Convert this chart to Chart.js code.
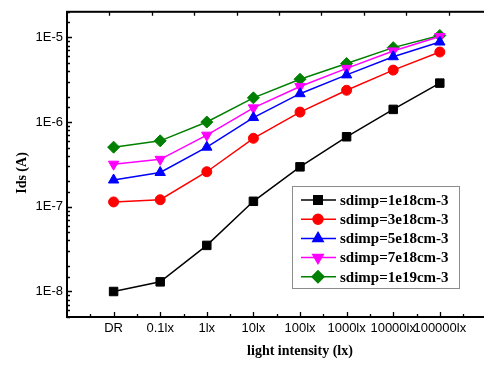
<!DOCTYPE html>
<html>
<head>
<meta charset="utf-8">
<script src="https://cdn.jsdelivr.net/npm/chart.js@4.4.1/dist/chart.umd.min.js"></script>
<style>
  html, body { margin: 0; padding: 0; background: #fff; overflow: hidden; }
  #ids { display: block; }
</style>
</head>
<body>
<canvas id="ids" width="545" height="365"></canvas>
<script>
// light intensity categories on the x axis
const intensities = ["DR", "0.1lx", "1lx", "10lx", "100lx", "1000lx", "10000lx", "100000lx"];
const seriesNames = ["sdimp=1e18cm-3", "sdimp=3e18cm-3", "sdimp=5e18cm-3", "sdimp=7e18cm-3", "sdimp=1e19cm-3"];

// Ids (A)
const ids1e18 = [1.0e-8, 1.3e-8, 3.5e-8, 1.16e-7, 2.96e-7, 6.7e-7, 1.41e-6, 2.88e-6];
const ids3e18 = [1.14e-7, 1.21e-7, 2.59e-7, 6.43e-7, 1.31e-6, 2.37e-6, 4.1e-6, 6.7e-6];
const ids5e18 = [2.07e-7, 2.54e-7, 5.05e-7, 1.13e-6, 2.16e-6, 3.6e-6, 5.9e-6, 8.8e-6];
const ids7e18 = [3.18e-7, 3.63e-7, 7.0e-7, 1.47e-6, 2.63e-6, 4.3e-6, 6.9e-6, 1.02e-5];
const ids1e19 = [5.05e-7, 6.0e-7, 1.0e-6, 1.93e-6, 3.2e-6, 4.9e-6, 7.55e-6, 1.05e-5];

// y axis limits and labelled decades
const yMin = 5e-9;
const yMax = 2e-5;
const yDecades = [1e-8, 1e-7, 1e-6, 1e-5];
const yDecadeLabels = ["1E-8", "1E-7", "1E-6", "1E-5"];

function toPoints(values) {
  return values.map((v, i) => ({ x: i, y: v }));
}

function makeSet(label, values, color, style, radius, rotation) {
  return {
    label,
    data: toPoints(values),
    borderColor: color,
    backgroundColor: color,
    borderWidth: 1.5,
    pointStyle: style,
    pointRadius: radius,
    pointRotation: rotation || 0,
    pointBackgroundColor: color,
    pointBorderColor: color,
    pointBorderWidth: 1,
    tension: 0,
    clip: false,
  };
}

const serif = "'Liberation Serif', 'Times New Roman', serif";
const sans = "'Liberation Sans', Arial, sans-serif";

// box, inward ticks, y title and the legend
const frame = {
  id: "frame",
  afterDraw(chart) {
    const { ctx, chartArea: a } = chart;
    const xs = chart.scales.x;
    const ys = chart.scales.y;
    ctx.save();
    ctx.strokeStyle = "#000";
    ctx.lineWidth = 2;
    ctx.strokeRect(a.left, a.top, a.right - a.left, a.bottom - a.top);

    ctx.lineWidth = 1.3;
    ctx.beginPath();
    // y ticks
    ys.ticks.forEach((t) => {
      const y = Math.round(ys.getPixelForValue(t.value)) + 0.5;
      const major = yDecades.some((d) => Math.abs(d - t.value) / d < 1e-6);
      const len = major ? 5 : 3;
      ctx.moveTo(a.left, y);
      ctx.lineTo(a.left + len, y);
    });
    // bottom ticks
    for (let v = -0.5; v <= 9; v += 0.5) {
      const x = Math.round(xs.getPixelForValue(v)) + 0.5;
      const len = Number.isInteger(v) ? 5 : 3;
      ctx.moveTo(x, a.bottom);
      ctx.lineTo(x, a.bottom - len);
    }
    // top ticks
    for (let k = 1; k <= 10; k++) {
      const x = Math.round(a.left + k * 42.4) + 0.5;
      ctx.moveTo(x, a.top);
      ctx.lineTo(x, a.top + 4);
    }
    ctx.stroke();

    // y title
    ctx.fillStyle = "#000";
    ctx.font = "bold 14px " + serif;
    ctx.textAlign = "center";
    ctx.textBaseline = "middle";
    ctx.translate(22, 173);
    ctx.rotate(-Math.PI / 2);
    ctx.fillText("Ids (A)", 0, 0);
    ctx.restore();

    // legend
    ctx.save();
    ctx.strokeStyle = "#8c8c8c";
    ctx.lineWidth = 1;
    ctx.strokeRect(292.5, 186.5, 167, 102);
    ctx.font = "bold 15px " + serif;
    ctx.textAlign = "left";
    ctx.textBaseline = "middle";
    chart.data.datasets.forEach((ds, i) => {
      const y = 200 + i * 19.2;
      ctx.strokeStyle = ds.borderColor;
      ctx.lineWidth = 1.5;
      ctx.beginPath();
      ctx.moveTo(301, y);
      ctx.lineTo(336, y);
      ctx.stroke();
      ctx.fillStyle = ds.borderColor;
      Chart.helpers.drawPoint(ctx, {
        pointStyle: ds.pointStyle,
        radius: ds.pointRadius,
        rotation: ds.pointRotation,
        borderWidth: 1,
      }, 318, y);
      ctx.fillStyle = "#000";
      ctx.fillText(ds.label, 340, y + 1);
    });
    ctx.restore();
  },
};

new Chart(document.getElementById("ids"), {
  type: "line",
  data: {
    datasets: [
      makeSet(seriesNames[0], ids1e18, "#000000", "rect", 6),
      makeSet(seriesNames[1], ids3e18, "#ff0000", "circle", 5),
      makeSet(seriesNames[2], ids5e18, "#0000ff", "triangle", 6),
      makeSet(seriesNames[3], ids7e18, "#ff00ff", "triangle", 6, 180),
      makeSet(seriesNames[4], ids1e19, "#008000", "rectRot", 6),
    ],
  },
  options: {
    responsive: false,
    devicePixelRatio: 1,
    animation: false,
    layout: { padding: { left: 0, top: 7, right: 12, bottom: 0 } },
    plugins: {
      legend: { display: false },
      tooltip: { enabled: false },
      title: { display: false },
    },
    scales: {
      x: {
        type: "linear",
        min: -1,
        max: 9,
        afterFit: (s) => { s.height = 48; },
        grid: { display: false, drawTicks: false },
        border: { display: false },
        ticks: {
          stepSize: 1,
          autoSkip: false,
          maxRotation: 0,
          padding: 4,
          color: "#000",
          font: { family: sans, size: 13 },
          callback: (v) => intensities[v] ?? "",
        },
        title: {
          display: true,
          text: "light intensity (lx)",
          color: "#000",
          font: { family: serif, size: 14, weight: "bold" },
          padding: { top: 0, bottom: 5 },
        },
      },
      y: {
        type: "logarithmic",
        min: yMin,
        max: yMax,
        afterFit: (s) => { s.width = 67; },
        grid: { display: false, drawTicks: false },
        border: { display: false },
        ticks: {
          autoSkip: false,
          padding: 4,
          color: "#000",
          font: { family: sans, size: 13 },
          callback: (v) => {
            const i = yDecades.findIndex((d) => Math.abs(d - v) / d < 1e-6);
            return i >= 0 ? yDecadeLabels[i] : "";
          },
        },
      },
    },
  },
  plugins: [frame],
});
</script>
</body>
</html>
